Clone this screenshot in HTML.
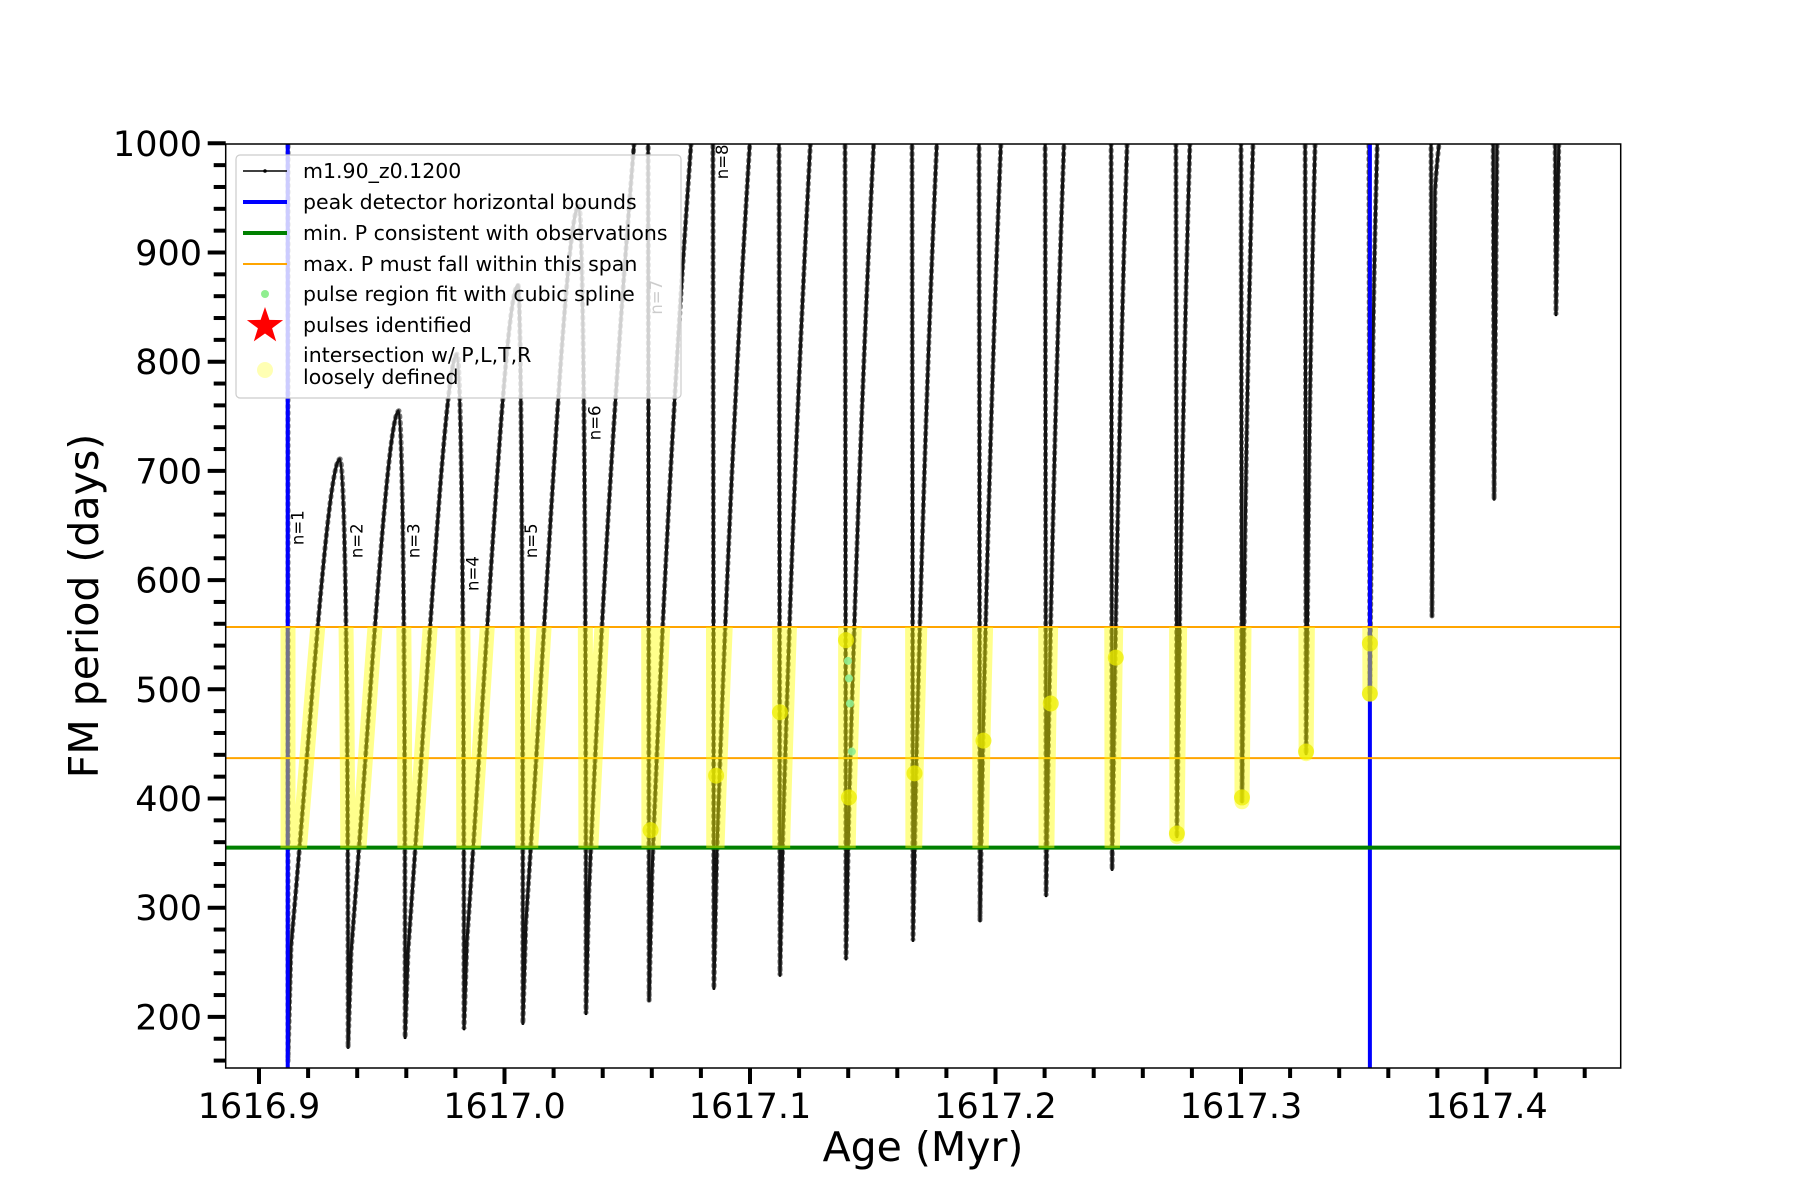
<!DOCTYPE html>
<html><head><meta charset="utf-8"><style>
html,body{margin:0;padding:0;background:#fff;}
svg{display:block;font-family:"DejaVu Sans","Liberation Sans",sans-serif;}
</style></head><body>
<svg id="chart" width="1800" height="1200" viewBox="0 0 1800 1200" xmlns="http://www.w3.org/2000/svg">
<defs><clipPath id="plotClip"><rect x="225.7" y="144" width="1395" height="924"/></clipPath>
<clipPath id="bandClip"><rect x="225.7" y="627" width="1395" height="221"/></clipPath></defs>
<rect width="1800" height="1200" fill="#fff"/>
<g id="marks" clip-path="url(#plotClip)"></g>
<g id="axes"></g>
<g id="legend"></g>
</svg>
<script>
// ---- data ----
const dropTimes = [1616.9118,1616.9363,1616.9595,1616.9835,1617.0075,1617.0332,1617.0589,1617.0853,1617.1122,1617.1391,1617.1664,1617.1937,1617.2206,1617.2475,1617.2739,1617.3004,1617.3265,1617.3525,1617.3778,1617.4031,1617.4283];
const minPeriods = [159,172,181,189,194,203,215,226,238,253,270,288,311,335,365,397,441,496,567,674,843];
const reboundPeriods = [264,259,261,270,286,316,333,352,370,392,421,454,487,523,575,634,709,809,956,1010,1010];
const peakTimes = [1616.9330,1616.9570,1616.9807,1617.0055,1617.0303,1617.0528,1617.0760,1617.0999,1617.1246,1617.1504,1617.1761,1617.2022,1617.2279,1617.2536,1617.2792,1617.3049,1617.3302,1617.3555,1617.3807,null,null];
const peakPeriods = [711,755,807,870,943,1000,1000,1000,1000,1000,1000,1000,1000,1000,1000,1000,1000,1000,1000,null,null];
const blobTimes = [1617.0595,1617.0862,1617.1122,1617.1391,1617.1403,1617.1670,1617.1951,1617.2225,1617.2490,1617.2739,1617.3004,1617.3265,1617.3525,1617.3525];
const blobPeriods = [371,421,479,545,401,423,453,487,529,368,401,443,496,542];
const splineTimes = [1617.1399,1617.1403,1617.1407,1617.1415];
const splinePeriods = [526,510,487,443];
const labelTexts = ["n=1","n=2","n=3","n=4","n=5","n=6","n=7","n=8"];
const labelTimes = [1616.9159,1616.9399,1616.9631,1616.9871,1617.0111,1617.0368,1617.0620,1617.0889];
const labelPeriods = [648,636,636,606,636,744,859,983];
const boundTimes = [1616.9117,1617.3525];
const minPLine = [355];
const maxPSpan = [557,437];
const xTickValues = [1616.9,1617.0,1617.1,1617.2,1617.3,1617.4];
const xTickLabels = ["1616.9","1617.0","1617.1","1617.2","1617.3","1617.4"];
const yTickValues = [200,300,400,500,600,700,800,900,1000];
const yTickLabels = ["200","300","400","500","600","700","800","900","1000"];

// ---- axes functions ----
const X0=225.7,X1=1620.7,Y0=144,Y1=1068;
function xs(t){return 259+(t-1616.9)*2455;}
function ys(v){return 143.3+(1000-v)*1.092;}
const NS="http://www.w3.org/2000/svg";
function mk(tag,attrs,parent){const e=document.createElementNS(NS,tag);for(const k in attrs)e.setAttribute(k,attrs[k]);parent.appendChild(e);return e;}
const marks=document.getElementById('marks');
const axes=document.getElementById('axes');
const legend=document.getElementById('legend');

// ---- build track path ----
let d="M"+xs(dropTimes[0]).toFixed(1)+","+(ys(1000)-30).toFixed(1)+" L"+xs(dropTimes[0]).toFixed(1)+","+ys(minPeriods[0]).toFixed(1);
for(let i=0;i<dropTimes.length;i++){
  const x0=xs(dropTimes[i])+3, y0=ys(reboundPeriods[i]);
  d+=" L"+x0.toFixed(1)+","+y0.toFixed(1);
  if(i+1>=dropTimes.length){d+=" L"+x0.toFixed(1)+","+(ys(1000)-30).toFixed(1);break;}
  const xn=xs(dropTimes[i+1]), yn=ys(minPeriods[i+1]);
  if(peakTimes[i]===null){
    d+=" L"+x0.toFixed(1)+","+(ys(1000)-30).toFixed(1)+" L"+(xn-1).toFixed(1)+","+(ys(1000)-30).toFixed(1)+" L"+xn.toFixed(1)+","+yn.toFixed(1);
    continue;
  }
  const xp=xs(peakTimes[i]), yp=ys(peakPeriods[i]);
  const dx=xp-x0, dy=yp-y0;
  if(peakPeriods[i]<1000){
    d+=" C"+(x0+0.4*dx).toFixed(1)+","+(y0+0.45*dy).toFixed(1)+" "+(xp-0.25*dx).toFixed(1)+","+yp.toFixed(1)+" "+xp.toFixed(1)+","+yp.toFixed(1);
    const g=xn-xp;
    d+=" C"+(xp+0.45*g).toFixed(1)+","+yp.toFixed(1)+" "+xn.toFixed(1)+","+(yp+0.25*(yn-yp)).toFixed(1)+" "+xn.toFixed(1)+","+yn.toFixed(1);
  } else {
    d+=" Q"+(x0+0.4*dx).toFixed(1)+","+(y0+0.55*dy).toFixed(1)+" "+xp.toFixed(1)+","+yp.toFixed(1);
    d+=" L"+(xp+2).toFixed(1)+","+(yp-30).toFixed(1)+" L"+(xn-1).toFixed(1)+","+(yp-30).toFixed(1)+" L"+xn.toFixed(1)+","+yn.toFixed(1);
  }
}
const track=mk('path',{d:d,fill:'none',stroke:'#000','stroke-width':3,'stroke-linejoin':'round'},marks);


const trackDots=mk('path',{d:d,fill:'none',stroke:'#222','stroke-width':5,'stroke-dasharray':'1.5 5','stroke-linecap':'round',opacity:0.6},marks);



// ---- bounds lines ----
boundTimes.forEach((t,i)=>{
  const l=mk('line',{x1:xs(t),x2:xs(t),y1:Y0,y2:Y1,stroke:'#0000ff','stroke-width':4},marks);
  
  
});
minPLine.forEach(v=>{
  const l=mk('line',{x1:X0,x2:X1,y1:ys(v),y2:ys(v),stroke:'#008000','stroke-width':4},marks);
  
  
});
maxPSpan.forEach((v,i)=>{
  const l=mk('line',{x1:X0,x2:X1,y1:ys(v),y2:ys(v),stroke:'#ffa500','stroke-width':2},marks);
  
  
});

// ---- yellow intersection highlight ----
const hl=mk('path',{d:d,fill:'none',stroke:'#ffff00','stroke-width':15,'stroke-linecap':'round','stroke-linejoin':'round',opacity:0.45,'clip-path':'url(#bandClip)'},marks);


blobTimes.forEach((t,i)=>{
  const c=mk('circle',{cx:xs(t),cy:ys(blobPeriods[i]),r:8,fill:'#eeee00',opacity:0.75},marks);
  
  
});
splineTimes.forEach((t,i)=>{
  const c=mk('circle',{cx:xs(t),cy:ys(splinePeriods[i]),r:4,fill:'#90ee90',opacity:0.9},marks);
  
  
});
labelTexts.forEach((s,i)=>{
  const x=xs(labelTimes[i]),y=ys(labelPeriods[i]);
  const tx=mk('text',{x:x,y:y,'font-size':16.5,'text-anchor':'middle','dominant-baseline':'central',fill:'#000',transform:'rotate(-90 '+x+' '+y+')'},marks);
  tx.textContent=s;
  
  
});

// ---- frame & ticks ----
const frame=mk('rect',{x:X0,y:Y0,width:X1-X0,height:Y1-Y0,fill:'none',stroke:'#000','stroke-width':1.5},axes);


for(let k=0;k<=27;k++){
  const t=1616.9+k*0.02, x=xs(t);
  if(x>X1)break;
  const major=(k%5===0);
  const tk=mk('line',{x1:x,x2:x,y1:Y1,y2:Y1+(major?16:10),stroke:'#000','stroke-width':4},axes);
  
  
}
xTickValues.forEach((v,i)=>{
  const tx=mk('text',{x:xs(v),y:1118,'font-size':35,'text-anchor':'middle',fill:'#000'},axes);
  tx.textContent=xTickLabels[i];
  
  
});
for(let v=160;v<=1000;v+=20){
  const y=ys(v), major=(v%100===0);
  const tk=mk('line',{x1:X0-(major?18:12),x2:X0,y1:y,y2:y,stroke:'#000','stroke-width':4},axes);
  
  
}
yTickValues.forEach((v,i)=>{
  const tx=mk('text',{x:202,y:ys(v)+12.5,'font-size':35,'text-anchor':'end',fill:'#000'},axes);
  tx.textContent=yTickLabels[i];
  
  
});
const xt=mk('text',{x:923,y:1161,'font-size':41,'text-anchor':'middle',fill:'#000'},axes);
xt.textContent='Age (Myr)';


const yt=mk('text',{x:98,y:606,'font-size':41,'text-anchor':'middle',fill:'#000',transform:'rotate(-90 98 606)'},axes);
yt.textContent='FM period (days)';



// ---- legend ----
const lb=mk('rect',{x:236,y:155,width:445,height:243,rx:4,fill:'#fff','fill-opacity':0.8,stroke:'#cccccc','stroke-width':1.2},legend);


const rows=[
 ['m1.90_z0.1200',171,'track'],['peak detector horizontal bounds',202,'blue'],['min. P consistent with observations',233,'green'],
 ['max. P must fall within this span',264,'orange'],['pulse region fit with cubic spline',294,'spline'],['pulses identified',325,'star'],
 ['intersection w/ P,L,T,R',355,'yellow'],['loosely defined',377,null]];
rows.forEach(r=>{
  const tx=mk('text',{x:303,y:r[1]+7,'font-size':20.5,fill:'#000'},legend);
  tx.textContent=r[0];
  
  
  const y=r[1];
  let h=null;
  if(r[2]==='track'){h=mk('line',{x1:243,x2:287,y1:y,y2:y,stroke:'#000','stroke-width':1.6},legend);mk('circle',{cx:265,cy:y,r:1.8,fill:'#000'},legend);}
  else if(r[2]==='blue'){h=mk('line',{x1:243,x2:287,y1:y,y2:y,stroke:'#0000ff','stroke-width':4},legend);}
  else if(r[2]==='green'){h=mk('line',{x1:243,x2:287,y1:y,y2:y,stroke:'#008000','stroke-width':4},legend);}
  else if(r[2]==='orange'){h=mk('line',{x1:243,x2:287,y1:y,y2:y,stroke:'#ffa500','stroke-width':2},legend);}
  else if(r[2]==='spline'){h=mk('circle',{cx:265,cy:y,r:4,fill:'#90ee90'},legend);}
  else if(r[2]==='star'){
    let p='';for(let k=0;k<10;k++){const a=-Math.PI/2+k*Math.PI/5, rr=(k%2?7.5:19);p+=(265+rr*Math.cos(a)).toFixed(1)+','+(y+1+rr*Math.sin(a)).toFixed(1)+' ';}
    h=mk('polygon',{points:p,fill:'#ff0000'},legend);}
  else if(r[2]==='yellow'){h=mk('circle',{cx:265,cy:370,r:8,fill:'#ffffa0',opacity:0.8},legend);}
  if(h){}
});
</script>
</body></html>
